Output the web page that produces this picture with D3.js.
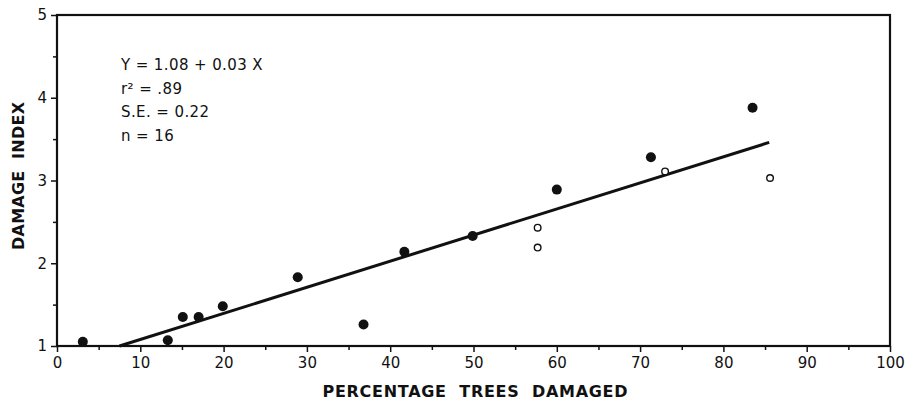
<!DOCTYPE html>
<html>
<head>
<meta charset="utf-8">
<script src="https://cdn.jsdelivr.net/npm/d3@7"></script>
<style>
  body { margin: 0; background: #fff; }
  text { font-family: "DejaVu Sans", sans-serif; fill: #111; }
</style>
</head>
<body>
<script>
// filled points
const solidX = [3.1, 13.3, 15.1, 17.0, 19.9, 28.9, 36.8, 41.7, 49.9, 60.0, 71.3, 83.5];
const solidY = [1.05, 1.07, 1.35, 1.35, 1.48, 1.83, 1.26, 2.14, 2.33, 2.89, 3.28, 3.88];
// open points
const openX = [57.7, 57.7, 73.0, 85.6];
const openY = [2.43, 2.19, 3.11, 3.03];
// fitted line as drawn
const lineX = [7.5, 85.5];
const lineY = [1.0, 3.46];

const xTicks = [0, 10, 20, 30, 40, 50, 60, 70, 80, 90, 100];
const yTicks = [1, 2, 3, 4, 5];
const statLines = ["Y = 1.08 + 0.03 X", "r² = .89", "S.E. = 0.22", "n = 16"];

const width = 909, height = 401;
const m = { left: 57, right: 19, top: 15, bottom: 55 };

const svg = d3.select("body").append("svg")
  .attr("width", width)
  .attr("height", height);

const x = d3.scaleLinear().domain([0, 100]).range([m.left, width - m.right]);
const y = d3.scaleLinear().domain([1, 5]).range([height - m.bottom, m.top]);

// minor ticks
const xAxisMinor = d3.axisBottom(x).tickValues(d3.range(5, 100, 10)).tickSize(4).tickFormat("");
const yAxisMinor = d3.axisLeft(y).tickValues([1.5, 2.5, 3.5, 4.5]).tickSize(4).tickFormat("");

svg.append("g").attr("transform", `translate(0,${y(1)})`).call(xAxisMinor)
  .call(g => g.select(".domain").remove())
  .selectAll("line").attr("stroke", "#111").attr("stroke-width", 1.5);
svg.append("g").attr("transform", `translate(${x(0)},0)`).call(yAxisMinor)
  .call(g => g.select(".domain").remove())
  .selectAll("line").attr("stroke", "#111").attr("stroke-width", 1.5);

const xAxis = svg.append("g")
  .attr("transform", `translate(0,${y(1)})`)
  .call(d3.axisBottom(x).tickValues(xTicks).tickSize(6).tickPadding(5));
xAxis.select(".domain").remove();
xAxis.selectAll("line").attr("stroke", "#111").attr("stroke-width", 1.5);
xAxis.selectAll("text").attr("font-size", 15).attr("font-family", "DejaVu Sans").attr("fill", "#111");

const yAxis = svg.append("g")
  .attr("transform", `translate(${x(0)},0)`)
  .call(d3.axisLeft(y).tickValues(yTicks).tickFormat(d3.format("d")).tickSize(6).tickPadding(4));
yAxis.select(".domain").remove();
yAxis.selectAll("line").attr("stroke", "#111").attr("stroke-width", 1.5);
yAxis.selectAll("text").attr("font-size", 15).attr("font-family", "DejaVu Sans").attr("fill", "#111");

// frame
svg.append("rect")
  .attr("x", x(0)).attr("y", y(5))
  .attr("width", x(100) - x(0)).attr("height", y(1) - y(5))
  .attr("fill", "none").attr("stroke", "#111").attr("stroke-width", 2.2);

// regression line
svg.append("path")
  .datum(d3.zip(lineX, lineY))
  .attr("d", d3.line().x(d => x(d[0])).y(d => y(d[1])))
  .attr("stroke", "#111").attr("stroke-width", 3).attr("fill", "none");

svg.append("g").selectAll("circle")
  .data(d3.zip(solidX, solidY))
  .join("circle")
  .attr("cx", d => x(d[0])).attr("cy", d => y(d[1]))
  .attr("r", 5).attr("fill", "#111");

svg.append("g").selectAll("circle")
  .data(d3.zip(openX, openY))
  .join("circle")
  .attr("cx", d => x(d[0])).attr("cy", d => y(d[1]))
  .attr("r", 3.3).attr("fill", "#fff").attr("stroke", "#111").attr("stroke-width", 1.4);

// stats block
svg.append("g").selectAll("text")
  .data(statLines)
  .join("text")
  .attr("x", 121)
  .attr("y", (d, i) => 70 + i * 23.5)
  .attr("font-size", 15)
  .attr("letter-spacing", 0.4)
  .attr("xml:space", "preserve")
  .text(d => d);

// axis titles
svg.append("text")
  .attr("x", 475).attr("y", 397)
  .attr("text-anchor", "middle")
  .attr("font-size", 16).attr("font-weight", "bold")
  .attr("textLength", 305).attr("lengthAdjust", "spacing")
  .attr("xml:space", "preserve")
  .text("PERCENTAGE  TREES  DAMAGED");

svg.append("text")
  .attr("transform", "translate(24,176) rotate(-90)")
  .attr("text-anchor", "middle")
  .attr("font-size", 16).attr("font-weight", "bold")
  .attr("textLength", 148).attr("lengthAdjust", "spacing")
  .attr("xml:space", "preserve")
  .text("DAMAGE  INDEX");
</script>
</body>
</html>
